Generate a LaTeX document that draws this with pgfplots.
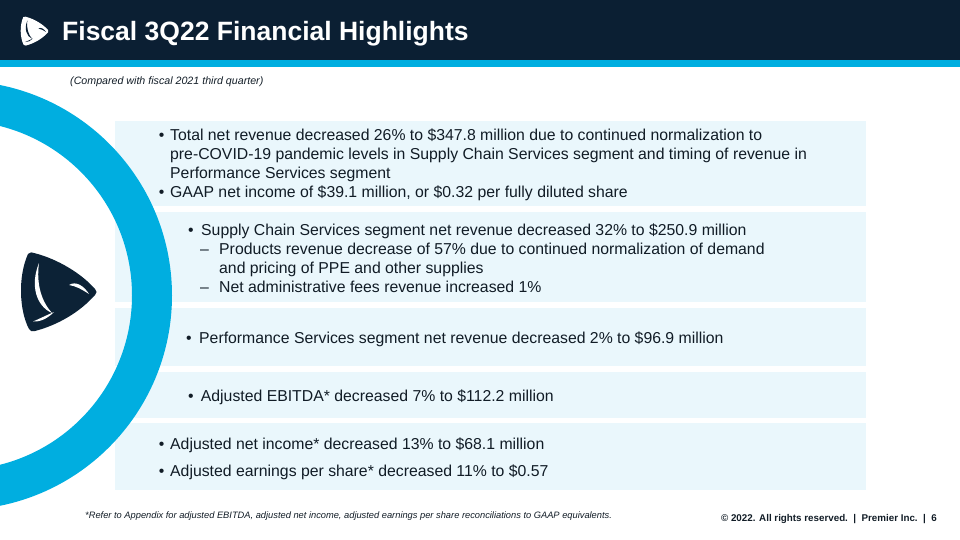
\documentclass[border=0pt]{standalone}
\usepackage{pgfplots}
\pgfplotsset{compat=1.18}
\usepackage{fontspec}
\setmainfont{Liberation Sans}[UprightFont=*, BoldFont={* Bold}, ItalicFont={* Italic}, BoldItalicFont={* Bold Italic}]
\definecolor{navy}{HTML}{0B1F33}
\definecolor{logonavy}{HTML}{0C2236}
\definecolor{cyanb}{HTML}{00AEE0}
\definecolor{boxfill}{HTML}{EAF7FC}
\definecolor{txt}{HTML}{111C26}
\newcommand\LP[2]{(axis cs:{\lox+\los*(#1-28)},{\loy+\los*(#2-253)})}
\newcommand\logo[5]{%
  \def\lox{#3}\def\loy{#4}\def\los{#5}%
  \edef\logotmp{%
  \noexpand\fill[#1] \LP{28}{254} .. controls \LP{30}{252} and \LP{32}{252} .. \LP{34}{253}
     .. controls \LP{58}{259} and \LP{82}{274} .. \LP{95}{289}
     .. controls \LP{97}{291} and \LP{97}{293} .. \LP{95}{295}
     .. controls \LP{80}{312} and \LP{58}{325} .. \LP{35}{331}
     .. controls \LP{32}{332} and \LP{30}{331} .. \LP{29}{329}
     .. controls \LP{19}{310} and \LP{18}{276} .. cycle;
  \noexpand\fill[#2] \LP{39}{263} .. controls \LP{30}{285} and \LP{36}{306} .. \LP{52}{313}
     .. controls \LP{42}{302} and \LP{36}{285} .. cycle;
  \noexpand\fill[#2] \LP{69}{285} .. controls \LP{76}{280.5} and \LP{84}{286} .. \LP{89}{294}
     .. controls \LP{82}{289.5} and \LP{76}{286} .. cycle;
  \noexpand\fill[#2] \LP{33}{321.5} .. controls \LP{41}{322} and \LP{48}{318} .. \LP{54}{312}
     .. controls \LP{47}{315} and \LP{40}{318.5} .. cycle;
  }\logotmp}
\tikzset{body/.style={anchor=base west, inner sep=0pt, text=txt, font=\fontsize{15.8}{19}\selectfont},
         bul/.style={anchor=base, inner sep=0pt, text=txt, font=\fontsize{15.8}{19}\selectfont}}
\begin{document}
\begin{tikzpicture}
\begin{axis}[
  at={(0,0)}, anchor=south west,
  scale only axis, width=960pt, height=540pt,
  xmin=0, xmax=960, ymin=0, ymax=540, y dir=reverse,
  axis lines=none, ticks=none, clip=true,
]
\addplot[draw=none] coordinates {(0,0) (960,540)};
% header
\fill[navy] (axis cs:0,0) rectangle (axis cs:960,60);
\fill[cyanb] (axis cs:0,60) rectangle (axis cs:960,67);
% boxes
\fill[boxfill] (axis cs:115,121) rectangle (axis cs:866,206);
\fill[boxfill] (axis cs:115,212) rectangle (axis cs:866,302);
\fill[boxfill] (axis cs:115,308) rectangle (axis cs:866,366);
\fill[boxfill] (axis cs:115,372) rectangle (axis cs:866,418);
\fill[boxfill] (axis cs:115,423) rectangle (axis cs:866,490);
% ring
\fill[cyanb, even odd rule] (axis cs:-42.6,295.4) circle[radius=214.6pt] (axis cs:-42.6,295.4) circle[radius=174.6pt];
% logos
\logo{logonavy}{white}{28}{253}{1}
\logo{white}{navy}{23.3}{16.7}{0.37}
% title
\node[anchor=base west, inner sep=0pt, font=\fontsize{26.5}{30}\selectfont] at (axis cs:62,40.7) {\textcolor{white}{\bfseries Fiscal 3Q22 Financial Highlights}};
\node[anchor=base west, inner sep=0pt, text=txt, font=\fontsize{10.66}{12}\selectfont\itshape] at (axis cs:70,85) {(Compared with fiscal 2021 third quarter)};
% box 1
\node[bul] at (axis cs:161.7,140.5) {\textbullet};
\node[body] at (axis cs:170,140.5) {Total net revenue decreased 26\% to \$347.8 million due to continued normalization to};
\node[body] at (axis cs:170,159.5) {pre-COVID-19 pandemic levels in Supply Chain Services segment and timing of revenue in};
\node[body] at (axis cs:170,178.5) {Performance Services segment};
\node[bul] at (axis cs:161.7,197.5) {\textbullet};
\node[body] at (axis cs:170,197.5) {GAAP net income of \$39.1 million, or \$0.32 per fully diluted share};
% box 2
\node[bul] at (axis cs:191,235) {\textbullet};
\node[body] at (axis cs:201,235) {Supply Chain Services segment net revenue decreased 32\% to \$250.9 million};
\node[body] at (axis cs:200,254) {\textendash};
\node[body] at (axis cs:219,254) {Products revenue decrease of 57\% due to continued normalization of demand};
\node[body] at (axis cs:219,273) {and pricing of PPE and other supplies};
\node[body] at (axis cs:200,292.5) {\textendash};
\node[body] at (axis cs:219,292.5) {Net administrative fees revenue increased 1\%};
% box 3
\node[bul] at (axis cs:189,343.3) {\textbullet};
\node[body] at (axis cs:199,343.3) {Performance Services segment net revenue decreased 2\% to \$96.9 million};
% box 4
\node[bul] at (axis cs:191,401.7) {\textbullet};
\node[body] at (axis cs:200.7,401.7) {Adjusted EBITDA* decreased 7\% to \$112.2 million};
% box 5
\node[bul] at (axis cs:161.7,449.3) {\textbullet};
\node[body] at (axis cs:170,449.3) {Adjusted net income* decreased 13\% to \$68.1 million};
\node[bul] at (axis cs:161.7,476) {\textbullet};
\node[body] at (axis cs:170,476) {Adjusted earnings per share* decreased 11\% to \$0.57};
% footnote and footer
\node[anchor=base west, inner sep=0pt, text=txt, font=\fontsize{9.3}{11}\selectfont\itshape] at (axis cs:85,518.5) {*Refer to Appendix for adjusted EBITDA, adjusted net income, adjusted earnings per share reconciliations to GAAP equivalents.};
\node[anchor=base east, inner sep=0pt, text=txt, font=\fontsize{9.8}{11}\selectfont\bfseries] at (axis cs:937,521.5) {©~2022. All rights reserved.\ \ |\ \ Premier Inc.\ \ |\ \ 6};
\end{axis}
\pgfresetboundingbox
\useasboundingbox (current axis.south west) rectangle (current axis.north east);
\end{tikzpicture}
\end{document}
